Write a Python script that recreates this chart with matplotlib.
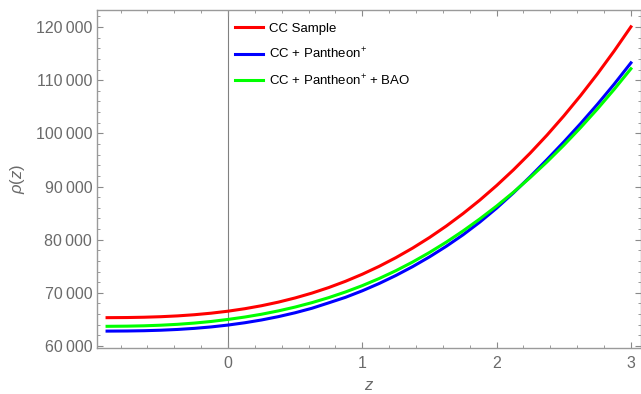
import numpy as np
import matplotlib.pyplot as plt
from matplotlib.ticker import MultipleLocator, FuncFormatter

# redshift grid and rho(z)
z = [-0.9, -0.75, -0.625, -0.5, -0.375, -0.25, -0.125, 0.0, 0.125, 0.25,
     0.375, 0.5, 0.625, 0.75, 0.875, 1.0, 1.125, 1.25, 1.375, 1.5,
     1.625, 1.75, 1.875, 2.0, 2.125, 2.25, 2.375, 2.5, 2.625, 2.75,
     2.875, 3.0]

rho_cc = [65332, 65357, 65413, 65512, 65666, 65884, 66176, 66550, 67015, 67580,
          68253, 69041, 69952, 70994, 72174, 73500, 74979, 76617, 78421, 80400,
          82559, 84905, 87441, 90181, 93126, 96284, 99660, 103263, 107097, 111166,
          115480, 120042]

rho_cc_pp = [62802, 62826, 62878, 62971, 63115, 63319, 63591, 63940, 64373, 64898,
             65523, 66254, 67099, 68118, 69157, 70385, 71751, 73266, 74933, 76760,
             78751, 80915, 83306, 85929, 88793, 91853, 95063, 98377, 101833, 105447,
             109243, 113260]

rho_cc_pp_bao = [63703, 63735, 63800, 63913, 64081, 64314, 64617, 65000, 65448, 65977,
                 66605, 67326, 68156, 69101, 70166, 71356, 72687, 74164, 75799, 77589,
                 79534, 81641, 83906, 86324, 88919, 91685, 94632, 97759, 101074, 104572,
                 108266, 112153]

labels = ["CC Sample", "CC + Pantheon$^{+}$", "CC + Pantheon$^{+}$ + BAO"]
colors = ["#ff0000", "#0000ff", "#00ff00"]

plt.rcParams['font.family'] = ['Liberation Sans', 'DejaVu Sans']
plt.rcParams['mathtext.fontset'] = 'custom'
plt.rcParams['mathtext.rm'] = 'Liberation Sans'
plt.rcParams['mathtext.it'] = 'Liberation Sans:italic'

fig = plt.figure(figsize=(6.41, 3.94), dpi=100)
ax = fig.add_axes([97 / 641, 46.5 / 394, 544 / 641, 337.5 / 394])

# axis line at z = 0
ax.axvline(0, color='#808080', lw=0.8, zorder=1)

for ys, lab, c in zip([rho_cc, rho_cc_pp, rho_cc_pp_bao], labels, colors):
    ax.plot(z, ys, color=c, lw=2.2, label=lab, zorder=3)

ax.set_xlim(-0.975, 3.075)
ax.set_ylim(59720, 123200)

# Mathematica-style frame ticks
ax.xaxis.set_major_locator(MultipleLocator(1))
ax.xaxis.set_minor_locator(MultipleLocator(0.2))
ax.yaxis.set_major_locator(MultipleLocator(10000))
ax.yaxis.set_minor_locator(MultipleLocator(2000))
ax.tick_params(which='both', direction='in', top=True, right=True,
               color='#8a8a8a', labelcolor='#6a6a6a', labelsize=11.5)
ax.tick_params(which='major', length=4, width=0.8)
ax.tick_params(which='minor', length=2, width=0.6)
ax.tick_params(axis='x', pad=6)
ax.yaxis.set_major_formatter(FuncFormatter(
    lambda v, p: f"{int(v):,}".replace(",", "\u2009")))
ax.xaxis.set_major_formatter(FuncFormatter(lambda v, p: f"{int(v)}"))

for s in ax.spines.values():
    s.set_color('#9a9a9a')
    s.set_linewidth(1.0)

ax.set_xlabel("$z$", fontsize=12, color='#6a6a6a', labelpad=5)
ax.set_ylabel(r"$\rho(z)$", fontsize=12, color='#6a6a6a', labelpad=6)

leg = ax.legend(loc='upper left', bbox_to_anchor=(0.254, 0.962), frameon=False,
                fontsize=9.5, handlelength=2.1, handletextpad=0.5,
                labelspacing=0.86, borderpad=0, borderaxespad=0)
for t in leg.get_texts():
    t.set_color('black')

fig.savefig("out.png", dpi=100)
